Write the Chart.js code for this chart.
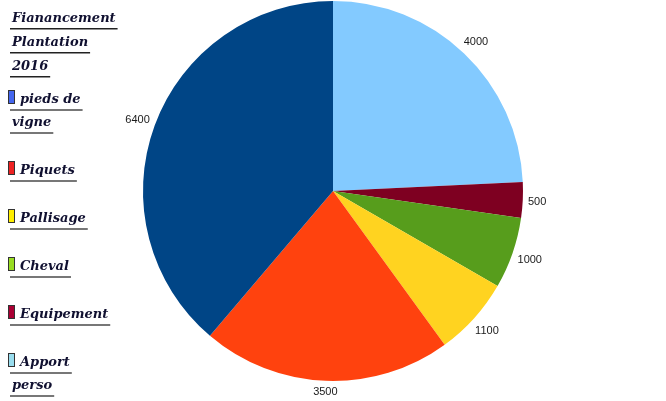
<!DOCTYPE html>
<html>
<head>
<meta charset="utf-8">
<script src="https://cdn.jsdelivr.net/npm/chart.js@4.4.0/dist/chart.umd.min.js"></script>
<style>
  body { margin: 0; background: #ffffff; }
  #wrap { width: 666px; height: 401px; position: relative; }
</style>
</head>
<body>
<div id="wrap"><canvas id="pieChart"></canvas></div>
<script>
// data, in drawing order (clockwise from 12 o'clock)
const categories = ["Apport perso", "Equipement", "Cheval", "Pallisage", "Piquets", "pieds de vigne"];
const values = [4000, 500, 1000, 1100, 3500, 6400];
const sliceColors = ["#83caff", "#7e0021", "#579d1c", "#ffd320", "#ff420e", "#004586"];
const swatchColors = ["#99ddee", "#aa0033", "#99dd22", "#ffee00", "#ee2222", "#4466ee"];
const titleLines = ["Fianancement", "Plantation", "2016"];

const legendFont = "italic bold 13px 'DejaVu Serif'";

function wrapText(ctx, text, maxWidth) {
    const words = text.split(" ");
    const lines = [];
    let line = "";
    words.forEach((w) => {
        const test = line ? line + " " + w : w;
        if (line && ctx.measureText(test).width > maxWidth) {
            lines.push(line);
            line = w;
        } else {
            line = test;
        }
    });
    if (line) lines.push(line);
    return lines;
}

// draws the values outside each slice
const valueLabels = {
    id: "valueLabels",
    afterDatasetsDraw(chart) {
        const ctx = chart.ctx;
        const meta = chart.getDatasetMeta(0);
        ctx.save();
        ctx.font = "11px 'Liberation Sans'";
        ctx.fillStyle = "#1a1a1a";
        ctx.textAlign = "center";
        ctx.textBaseline = "middle";
        meta.data.forEach((arc, i) => {
            const mid = (arc.startAngle + arc.endAngle) / 2;
            const text = String(chart.data.datasets[0].data[i]);
            const w = ctx.measureText(text).width;
            const h = 10;
            const off = 5 + Math.abs(Math.cos(mid)) * w / 2 + Math.abs(Math.sin(mid)) * h / 2;
            const r = arc.outerRadius + off;
            ctx.fillText(text, arc.x + Math.cos(mid) * r, arc.y + Math.sin(mid) * r + 1);
        });
        ctx.restore();
    }
};

// legend on the left, listed from last slice to first
const sideLegend = {
    id: "sideLegend",
    afterDraw(chart) {
        const ctx = chart.ctx;
        ctx.save();
        ctx.font = legendFont;
        ctx.textBaseline = "alphabetic";

        let y = 22;
        titleLines.forEach((t) => {
            ctx.fillStyle = "#101030";
            ctx.fillText(t, 12, y);
            const w = ctx.measureText(t).width;
            ctx.fillStyle = "#222222";
            ctx.fillRect(10, y + 6, w + 4, 1.5);
            y += 24;
        });

        y = 103;
        for (let i = categories.length - 1; i >= 0; i--) {
            const lines = wrapText(ctx, categories[i], 85);
            ctx.fillStyle = swatchColors[i];
            ctx.fillRect(8, y - 12, 6, 13);
            ctx.strokeStyle = "#333333";
            ctx.lineWidth = 1;
            ctx.strokeRect(8.5, y - 12.5, 6, 13);
            lines.forEach((ln, k) => {
                const x = k === 0 ? 20 : 12;
                ctx.fillStyle = "#101030";
                ctx.fillText(ln, x, y);
                const w = ctx.measureText(ln).width;
                ctx.fillStyle = "#777777";
                ctx.fillRect(10, y + 6, w + x - 8, 2);
                if (k < lines.length - 1) y += 23;
            });
            y += 48;
        }
        ctx.restore();
    }
};

new Chart(document.getElementById("pieChart"), {
    type: "pie",
    data: {
        labels: categories,
        datasets: [{
            data: values,
            backgroundColor: sliceColors,
            borderWidth: 0
        }]
    },
    options: {
        responsive: true,
        maintainAspectRatio: false,
        animation: false,
        layout: { padding: { left: 143, right: 143, top: 1, bottom: 20 } },
        plugins: {
            legend: { display: false },
            tooltip: { enabled: false }
        }
    },
    plugins: [valueLabels, sideLegend]
});
</script>
</body>
</html>
